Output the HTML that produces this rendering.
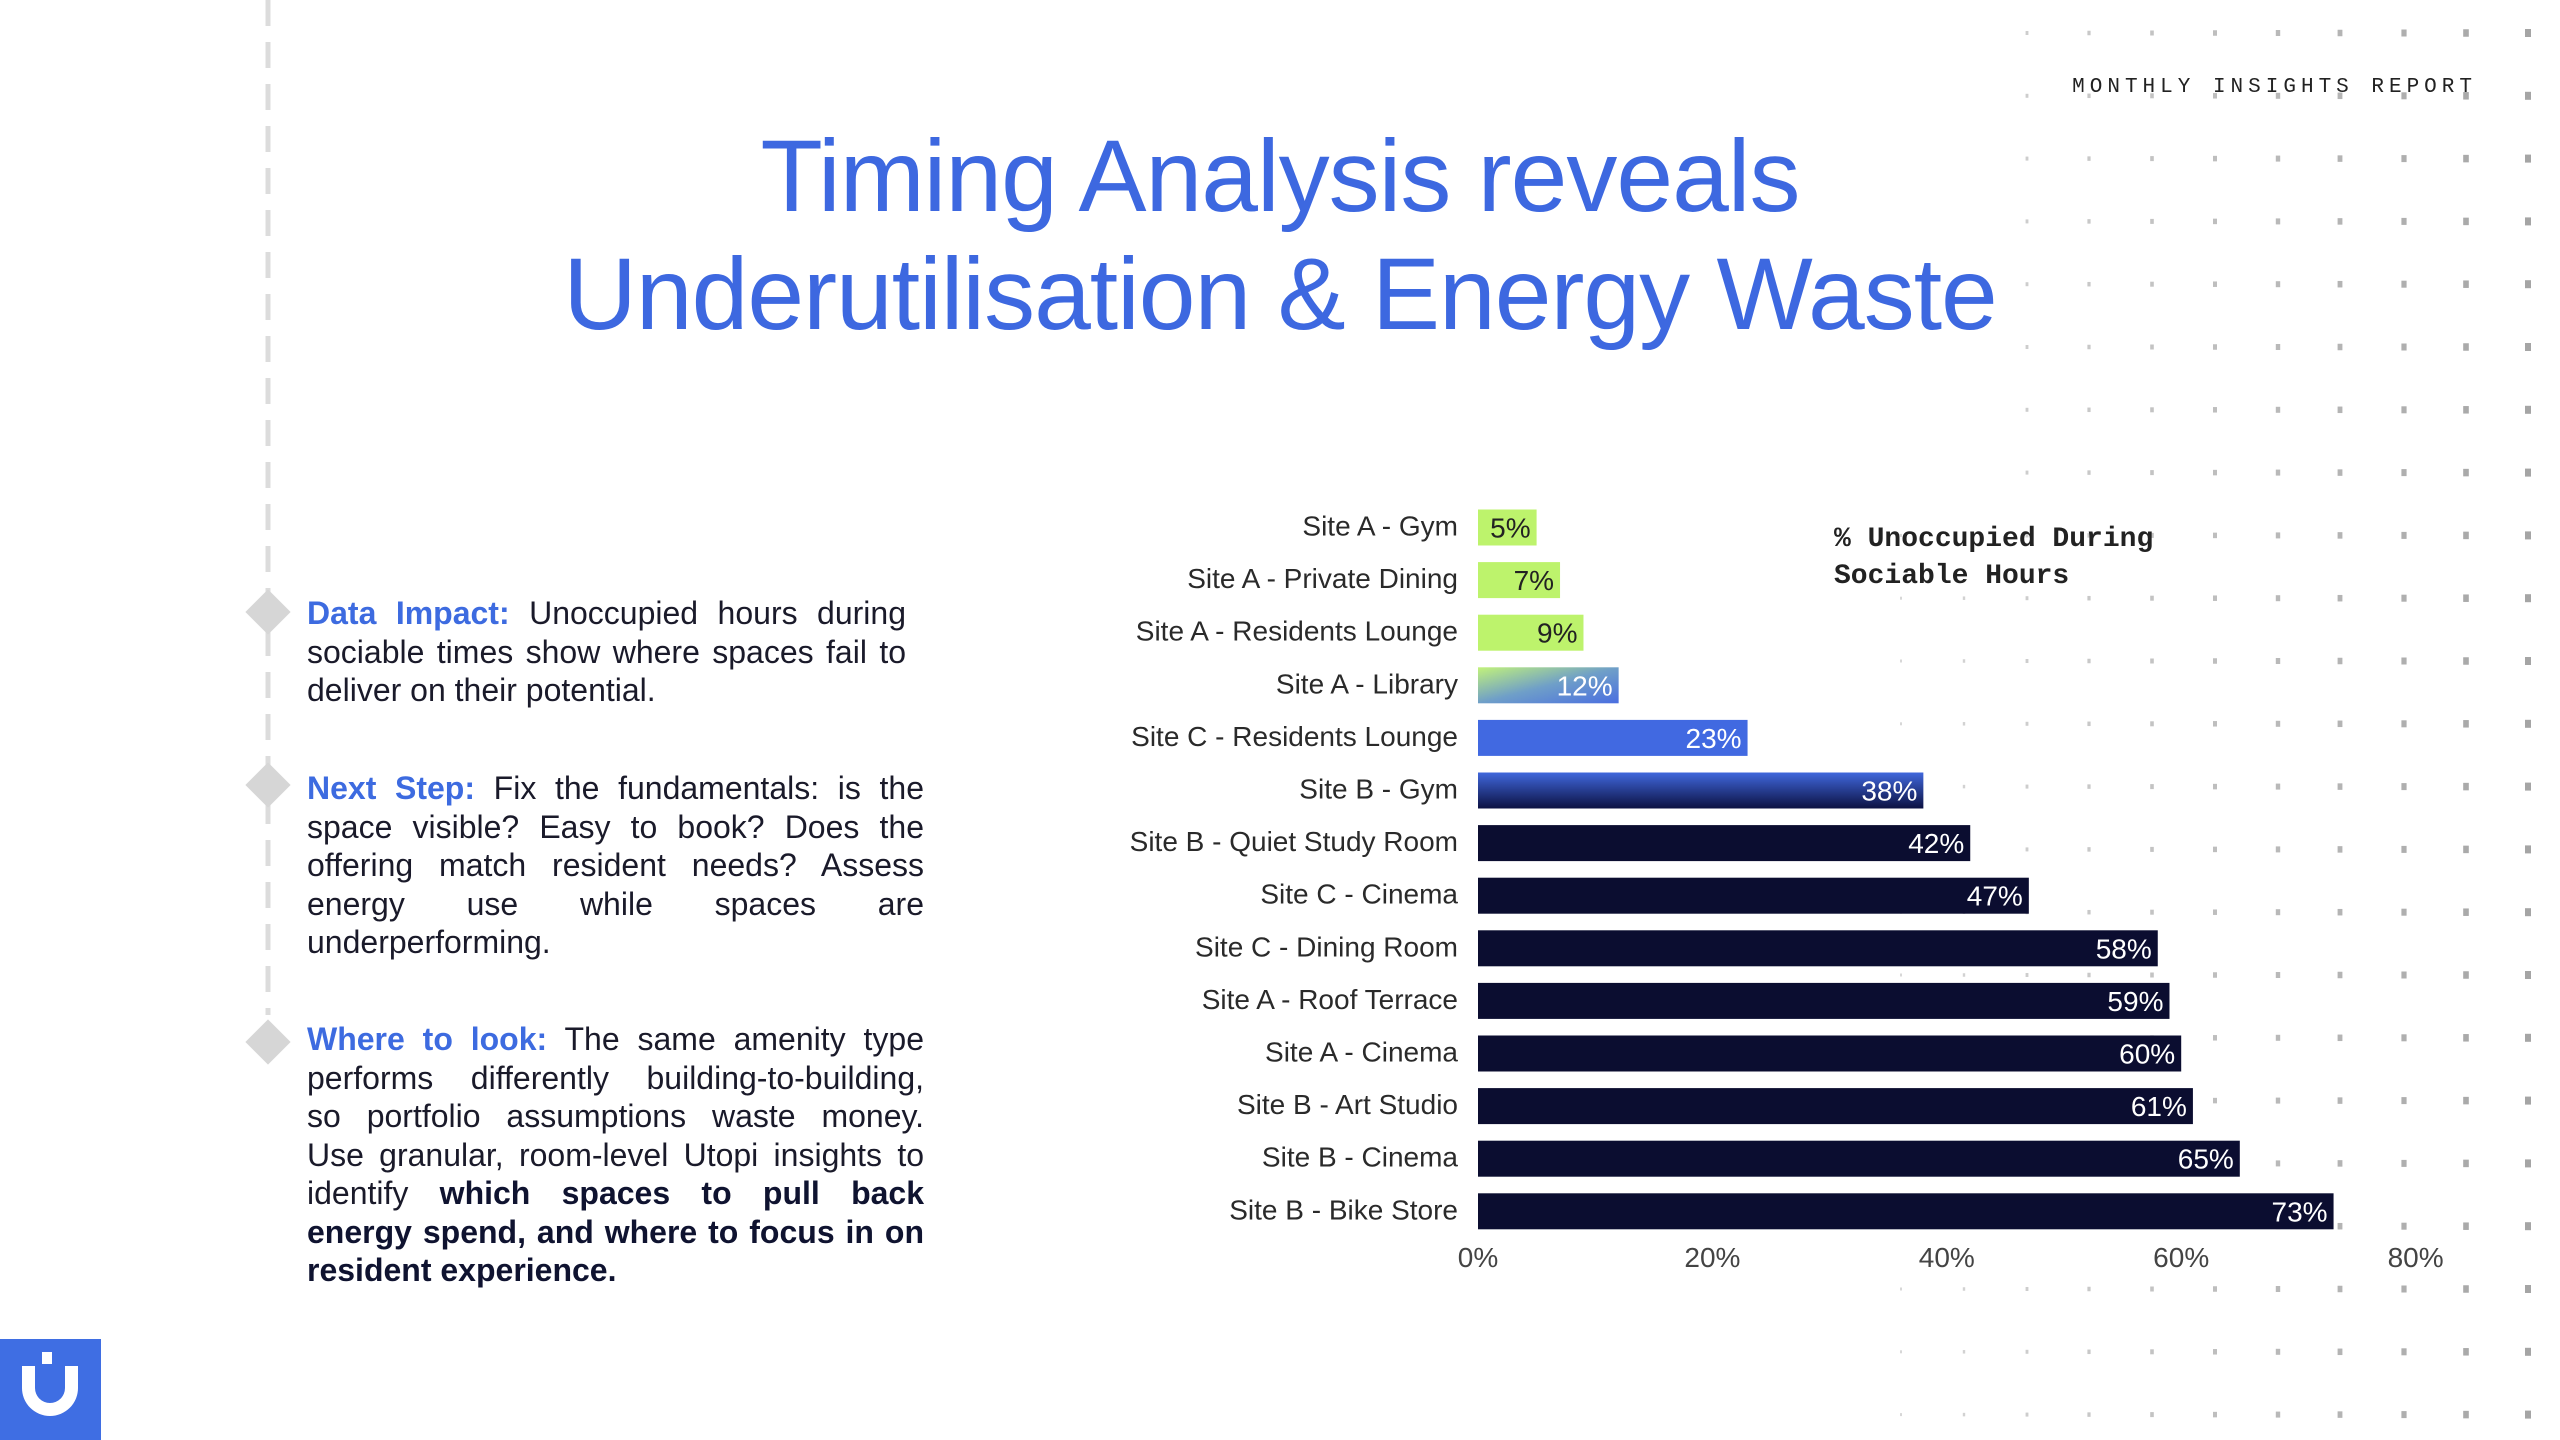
<!DOCTYPE html>
<html><head><meta charset="utf-8"><style>
html,body{margin:0;padding:0;background:#fff;}
body{width:2560px;height:1440px;position:relative;overflow:hidden;font-family:"Liberation Sans",sans-serif;}
.title{position:absolute;left:0;width:2560px;text-align:center;color:#3d68e0;font-size:102px;letter-spacing:-1px;line-height:120px;}
.para{position:absolute;left:307px;width:617px;font-size:32px;line-height:38.5px;color:#1a1a2a;}
.para div{text-align:justify;text-align-last:justify;white-space:nowrap;}
.para div.e{text-align-last:left;}
.para b.l{color:#3d6be0;}
.para b.d{color:#0f1330;}
</style></head><body>
<svg width="2560" height="1440" style="position:absolute;left:0;top:0">
<defs>
<linearGradient id="gb" x1="0" y1="0" x2="0" y2="1"><stop offset="0" stop-color="#4067dc"/><stop offset="1" stop-color="#0c1142"/></linearGradient>
<linearGradient id="gl" x1="0" y1="0" x2="1" y2="1"><stop offset="0" stop-color="#c2f27a"/><stop offset="0.5" stop-color="#6f9fc8"/><stop offset="1" stop-color="#4a6ee0"/></linearGradient>
</defs>
<g id="dots"></g>
<line x1="268" y1="0" x2="268" y2="1015" stroke="#dcdcdc" stroke-width="5" stroke-dasharray="26 16"/>
<g fill="#d6d6d6">
<rect x="252" y="596" width="32" height="32" transform="rotate(45 268 612)"/>
<rect x="252" y="769" width="32" height="32" transform="rotate(45 268 785)"/>
<rect x="252" y="1026" width="32" height="32" transform="rotate(45 268 1042)"/>
</g>
<g id="bars" font-family="Liberation Sans, sans-serif" font-size="28"></g>
<g font-family="Liberation Mono, monospace" font-size="28" font-weight="bold" fill="#222">
<text x="1834" y="546">% Unoccupied During</text>
<text x="1834" y="583">Sociable Hours</text>
</g>
<text x="2477" y="92" text-anchor="end" font-family="Liberation Mono, monospace" font-size="21" letter-spacing="5" fill="#222">MONTHLY INSIGHTS REPORT</text>
<rect x="0" y="1339" width="101" height="101" fill="#3f6ee3"/>
<path d="M22 1366 v22 a28 28 0 0 0 56 0 v-22 h-13 v22 a15 15 0 0 1 -30 0 v-22 z" fill="#fff"/>
<rect x="42" y="1352" width="10" height="12" fill="#fff"/>
</svg>
<div class="title" style="top:116px">Timing Analysis reveals</div>
<div class="title" style="top:234px">Underutilisation &amp; Energy Waste</div>
<div class="para" style="top:594px;width:599px">
<div><b class="l">Data Impact:</b> Unoccupied hours during</div>
<div>sociable times show where spaces fail to</div>
<div class="e">deliver on their potential.</div></div>
<div class="para" style="top:769px">
<div><b class="l">Next Step:</b> Fix the fundamentals: is the</div>
<div>space visible? Easy to book? Does the</div>
<div>offering match resident needs? Assess</div>
<div>energy use while spaces are</div>
<div class="e">underperforming.</div></div>
<div class="para" style="top:1020px">
<div><b class="l">Where to look:</b> The same amenity type</div>
<div>performs differently building-to-building,</div>
<div>so portfolio assumptions waste money.</div>
<div>Use granular, room-level Utopi insights to</div>
<div>identify <b class="d">which spaces to pull back</b></div>
<div><b class="d">energy spend, and where to focus in on</b></div>
<div class="e"><b class="d">resident experience.</b></div></div>
<script>
var ns="http://www.w3.org/2000/svg";
var dg=document.getElementById("dots");
var cols=[1901,1964,2027,2089,2152,2215,2278,2340,2404,2466,2528];
for(var r=0;r<23;r++){var y=33+r*62.8;
 for(var c=0;c<cols.length;c++){var x=cols[c];
  if(y<480&&x<2020)continue;
  var t=c/(cols.length-1);var w=2+4*t,h=3+5*t;
  var e=document.createElementNS(ns,"rect");
  e.setAttribute("x",x-w/2);e.setAttribute("y",y-h/2);e.setAttribute("width",w);e.setAttribute("height",h);
  e.setAttribute("fill","rgb("+Math.round(215-50*t)+","+Math.round(215-50*t)+","+Math.round(215-50*t)+")");
  dg.appendChild(e);}}
var data=[["Site A - Gym",5],["Site A - Private Dining",7],["Site A - Residents Lounge",9],["Site A - Library",12],["Site C - Residents Lounge",23],["Site B - Gym",38],["Site B - Quiet Study Room",42],["Site C - Cinema",47],["Site C - Dining Room",58],["Site A - Roof Terrace",59],["Site A - Cinema",60],["Site B - Art Studio",61],["Site B - Cinema",65],["Site B - Bike Store",73]];
var bg=document.getElementById("bars");var x0=1478,k=11.72;
data.forEach(function(d,i){var cy=527.5+i*52.6;var w=d[1]*k;
 var fill=i<3?"#bdf36c":i==3?"url(#gl)":i==4?"#4169e1":i==5?"url(#gb)":"#0b0d30";
 var r=document.createElementNS(ns,"rect");r.setAttribute("x",x0);r.setAttribute("y",cy-18);r.setAttribute("width",w);r.setAttribute("height",36);r.setAttribute("fill",fill);bg.appendChild(r);
 var t=document.createElementNS(ns,"text");t.setAttribute("x",x0+w-6);t.setAttribute("y",cy+10);t.setAttribute("text-anchor","end");t.setAttribute("fill",i<3?"#222":"#fff");t.textContent=d[1]+"%";bg.appendChild(t);
 var l=document.createElementNS(ns,"text");l.setAttribute("x",1458);l.setAttribute("y",cy+8);l.setAttribute("text-anchor","end");l.setAttribute("fill","#2a2a2a");l.textContent=d[0];bg.appendChild(l);});
[0,20,40,60,80].forEach(function(v){var t=document.createElementNS(ns,"text");t.setAttribute("x",x0+v*k);t.setAttribute("y",1267);t.setAttribute("text-anchor","middle");t.setAttribute("fill","#444");t.textContent=v+"%";bg.appendChild(t);});
</script>
</body></html>
